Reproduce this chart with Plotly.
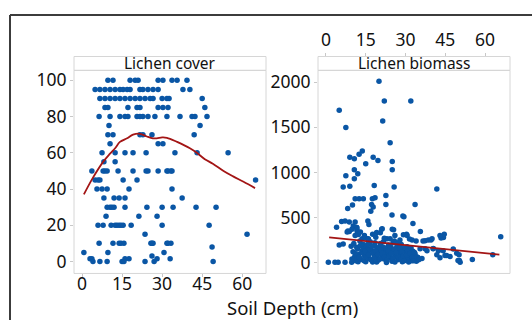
import plotly.graph_objects as go

# ---------------- data ----------------
# Lichen cover (%) vs soil depth (cm)
cover_depth = [
    9.7, 11.6, 18, 19.9, 21, 28.5, 30.3, 33.7, 35.6, 39.3,
    4.9, 6.7, 8.6, 10.5, 12.4, 14.2, 15.4, 16.9, 18, 21.7, 22.8, 24.7, 26.6, 28.5, 37.8, 40.4,
    6.7, 8.6, 10.5, 12.4, 14.2, 16.1, 18, 19.9, 21.7, 23.6, 25.5, 26.6, 30, 31.8, 32.6, 45,
    8.6, 9.7, 17.2, 20.6, 21.7, 28.5, 30.3, 32.2, 46,
    6.4, 10.5, 14.2, 16.1, 17.2, 20.6, 21.7, 22.8, 24.7, 27.3, 31.8, 36.7, 41.2, 42.3, 46.8,
    10.1, 44.2,
    9.7, 11.6, 21.7, 22.8, 26.2, 42,
    10.5, 28.5, 30.3,
    7.5, 12.4, 16.1, 19.1, 24, 34.8, 43.1, 54.7,
    8.2, 12.4,
    3.7, 7.9, 8.6, 9.4, 13.5, 19.1, 24, 24.7, 28.5, 31.8, 32.2, 33.3, 33.7,
    4.9, 6, 6.7, 15.4, 20.6, 65,
    5.6, 7.5, 9.4, 17.6, 33.7,
    8.2, 12, 13.9, 16.1, 37.5,
    9.4, 10.5, 11.2, 12, 16.1, 24.3, 30, 34.1, 42.7, 50.2,
    9, 21.3, 28.1,
    6, 7.9, 10.9, 12.4, 13.1, 13.9, 14.6, 15.4, 18.4, 30, 47.6,
    23.6, 61.8,
    6.4, 11.6, 13.9, 14.6, 15.7, 25.8, 26.2, 26.6, 31.8, 32.2, 33.3,
    48.7,
    0.7, 9.7, 30.7,
    26.2,
    3, 3.7, 16.1, 17.6, 28.1, 33,
    4.1, 6.7, 9.4, 15, 15.7, 23.6, 27, 49.1,
]
cover_value = (
    [100] * 10 + [95] * 16 + [90] * 16 + [85] * 9 + [80] * 15 + [75] * 2 +
    [70] * 6 + [65] * 3 + [60] * 8 + [55] * 2 + [50] * 13 + [45] * 6 +
    [40] * 5 + [35] * 5 + [30] * 10 + [25] * 3 + [20] * 11 + [15] * 2 +
    [10] * 11 + [8] + [5] * 3 + [3] + [1.5] * 6 + [0] * 8
)

# LOWESS smoother for lichen cover
cover_fit_depth = [0.7, 4, 7.9, 10.5, 12.4, 14.2, 16.9, 19.1, 21.7, 24.3, 26.5, 28,
                   30, 31.8, 35.6, 40.4, 43, 46, 49, 53, 56.6, 60.5, 64.8]
cover_fit_value = [37, 46, 55, 59.5, 62.5, 66, 68, 70, 70.5, 69, 68, 68,
                   68.5, 68.3, 66, 62.5, 60, 56.5, 54, 50, 47, 44, 40.5]

# Lichen biomass vs soil depth (cm)
biomass_depth = [
    20, 22, 32, 5, 21.4, 7.5, 24.2, 13.7, 12.5, 9, 10.7, 17.8, 19.6, 25,
    15, 25, 10.7, 12, 7.5, 10.7, 6.5, 9, 18.2, 25.7, 41.8,
    11, 12.5, 14.1, 17.5, 18.5, 8.2, 10, 17.2, 17.8, 16.9, 22.6, 22.6, 33.6,
    24.9, 29, 29.4, 4, 5.9, 7.2, 8.8, 11, 11.6, 8, 8.8, 10.3, 11.6, 11.8, 12.2,
    16.2, 21.2, 25.5, 17.6, 19.1, 32.8, 35.6, 29.2, 30.4, 44.6, 44.3, 65.9,
    37.4, 38.6, 39.6, 43.4, 5, 6.5, 48, 40.5, 42.4, 49.3, 50.2, 45.5, 46.8,
    50.6, 50.3, 55.2, 62.9, 41.8, 43, 0.9, 3.4, 4.6, 7.2, 9.7,
    15.8, 9.8, 8.3, 11.7, 21, 25, 11, 12.1, 13.6, 14.7, 15.8, 23, 24.2, 25.3,
    27.2, 18.5, 30.6, 32.5, 36.6, 40, 43, 40.4, 37.4, 38.1, 44.2, 35.5, 34.7,
    36.2, 44.9, 49.8,
    9.5, 10.2, 10.8, 11.3, 11.9, 12.4, 12.8, 13.3, 13.7, 14.1, 14.6, 15.0, 15.4,
    15.9, 16.3, 16.7, 17.1, 17.6, 18.0, 18.4, 18.9, 19.3, 19.7, 20.2, 20.6, 21.0,
    21.5, 21.9, 22.3, 22.8, 23.2, 23.6, 24.1, 24.5, 24.9, 25.4, 25.8, 26.2, 26.7,
    27.1, 27.5, 28.0, 28.4, 28.8, 29.3, 29.7, 30.1, 30.6, 31.0, 31.4, 31.9, 32.3,
    32.8, 33.2, 33.6, 34.1,
    9.8, 10.5, 11.0, 11.6, 12.1, 12.6, 13.0, 13.5, 14.0, 14.4, 14.8, 15.2, 15.7,
    16.1, 16.5, 16.9, 17.3, 17.8, 18.2, 18.7, 19.1, 19.5, 20.0, 20.4, 20.8, 21.3,
    21.7, 22.1, 22.6, 23.0, 23.4, 23.9, 24.3, 24.7, 25.2, 25.6, 26.0, 26.5, 26.9,
    27.3, 27.8, 28.2, 28.6, 29.1, 29.5, 29.9, 30.4, 30.8, 31.2, 31.7, 32.1, 32.6,
    33.0, 33.4, 34.4, 35.0,
    14.5, 13.0, 18.8, 22.0, 26.0, 27.9, 20.5, 16.0, 31.5, 34.0,
]
biomass_value = [
    2011, 1791, 1791, 1689, 1571, 1498, 1330, 1238, 1201, 1168, 1150, 1168, 1131, 1120,
    1095, 1029, 1029, 985, 963, 930, 838, 846, 854, 838, 816,
    707, 707, 707, 707, 718, 600, 637, 645, 615, 570, 744, 645, 645,
    527, 516, 509, 392, 454, 462, 450, 450, 388, 340, 344, 406, 388, 344, 315,
    421, 374, 363, 315, 333, 432, 344, 308, 315, 315, 278, 286,
    242, 250, 250, 271, 195, 205, 150, 157, 132, 102, 85, 77, 66,
    3, 22, 33, 85, 85, 52, 3, 3, 3, 3, 3,
    460, 370, 350, 365, 370, 370, 300, 310, 265, 275, 265, 265, 265, 220,
    220, 220, 300, 250, 240, 265, 300, 154, 154, 132, 132, 154, 55,
    44, 77, 22,
    180, 120, 60, 20, 150, 90, 240, 35, 130, 200, 75, 10, 165,
    110, 45, 230, 140, 5, 95, 185, 60, 150, 25, 120, 210, 80,
    170, 40, 130, 0, 100, 195, 55, 150, 15, 120, 240, 70, 170,
    30, 130, 90, 200, 10, 150, 60, 110, 175, 35, 140, 75, 20,
    125, 45, 95, 15,
    40, 210, 100, 170, 10, 55, 190, 110, 150, 20, 125, 60, 200,
    85, 145, 30, 180, 110, 55, 130, 5, 90, 170, 40, 140, 100,
    230, 65, 160, 25, 130, 75, 175, 100, 45, 150, 5, 110, 200,
    60, 160, 40, 120, 70, 20, 160, 80, 130, 5, 100, 160, 60,
    20, 110, 60, 30,
    300, 340, 280, 270, 300, 250, 330, 260, 260, 240,
]

# Linear fit for biomass
biomass_fit_depth = [1.2, 65.4]
biomass_fit_value = [278, 88]

panel_titles = ["Lichen cover", "Lichen biomass"]
x_ticks = [0, 15, 30, 45, 60]
cover_ticks = [0, 20, 40, 60, 80, 100]
biomass_ticks = [0, 500, 1000, 1500, 2000]
x_title = "Soil Depth (cm)"

# ---------------- figure ----------------
W, H = 532, 320
BLUE = "#0a56a5"
RED = "#a31515"
FONT = "Noto Sans"

def px(x):
    return x / W

def py(y):
    return 1 - y / H

L1, R1 = px(74), px(266)
L2, R2 = px(318), px(510)
B, T = py(273), py(68)
ST = py(54)

fig = go.Figure()
fig.add_trace(go.Scatter(x=cover_depth, y=cover_value, mode="markers",
                         marker=dict(color=BLUE, size=5.5), xaxis="x", yaxis="y",
                         hoverinfo="skip"))
fig.add_trace(go.Scatter(x=cover_fit_depth, y=cover_fit_value, mode="lines",
                         line=dict(color=RED, width=1.8, shape="spline"),
                         xaxis="x", yaxis="y"))
fig.add_trace(go.Scatter(x=biomass_depth, y=biomass_value, mode="markers",
                         marker=dict(color=BLUE, size=5.5), xaxis="x2", yaxis="y2"))
fig.add_trace(go.Scatter(x=biomass_fit_depth, y=biomass_fit_value, mode="lines",
                         line=dict(color=RED, width=1.8), xaxis="x2", yaxis="y2"))

tickfont = dict(family=FONT, size=17.5, color="#111111")
common = dict(showgrid=False, zeroline=False, showline=False, ticks="outside",
              ticklen=3, tickcolor="#c8c8c8", tickfont=tickfont)

fig.update_layout(
    width=W, height=H, margin=dict(l=0, r=0, t=0, b=0),
    paper_bgcolor="white", plot_bgcolor="white", showlegend=False,
    xaxis=dict(domain=[L1, R1], range=[-3, 68.9], tickvals=x_ticks, anchor="y",
               side="bottom", ticklabelstandoff=-8, **common),
    yaxis=dict(domain=[B, T], range=[-6.6, 105.5], tickvals=cover_ticks, anchor="x",
               **common),
    xaxis2=dict(domain=[L2, R2], range=[-3, 69.4], tickvals=x_ticks, anchor="free",
                position=ST, side="top", **common),
    yaxis2=dict(domain=[B, T], range=[-121, 2132], tickvals=biomass_ticks, anchor="x2",
                **common),
)

border = dict(color="#d6d6d6", width=1)
shapes = []
for (l, r) in [(L1, R1), (L2, R2)]:
    shapes.append(dict(type="rect", xref="paper", yref="paper", x0=l, x1=r, y0=B, y1=T,
                       line=border, fillcolor="rgba(0,0,0,0)", layer="above"))
    shapes.append(dict(type="rect", xref="paper", yref="paper", x0=l, x1=r, y0=T, y1=ST,
                       line=border, fillcolor="rgba(0,0,0,0)", layer="above"))
# outer frame (partially visible)
shapes.append(dict(type="line", xref="paper", yref="paper", x0=px(10), x1=1.01,
                   y0=py(12), y1=py(12), line=dict(color="#3c3c3c", width=2)))
shapes.append(dict(type="line", xref="paper", yref="paper", x0=px(10), x1=px(10),
                   y0=py(12), y1=-0.01, line=dict(color="#3c3c3c", width=2)))
fig.update_layout(shapes=shapes)

ann = []
for title, (l, r) in zip(panel_titles, [(L1, R1), (L2, R2)]):
    ann.append(dict(text=title, x=(l + r) / 2, y=py(61), xref="paper", yref="paper",
                    showarrow=False, xanchor="center", yanchor="middle",
                    font=dict(family=FONT, size=15.5, color="#111111")))
ann.append(dict(text=x_title, x=px(292), y=py(307), xref="paper", yref="paper",
                showarrow=False, xanchor="center", yanchor="middle",
                font=dict(family=FONT, size=18.5, color="#111111")))
fig.update_layout(annotations=ann)

fig.write_html("out.html")
